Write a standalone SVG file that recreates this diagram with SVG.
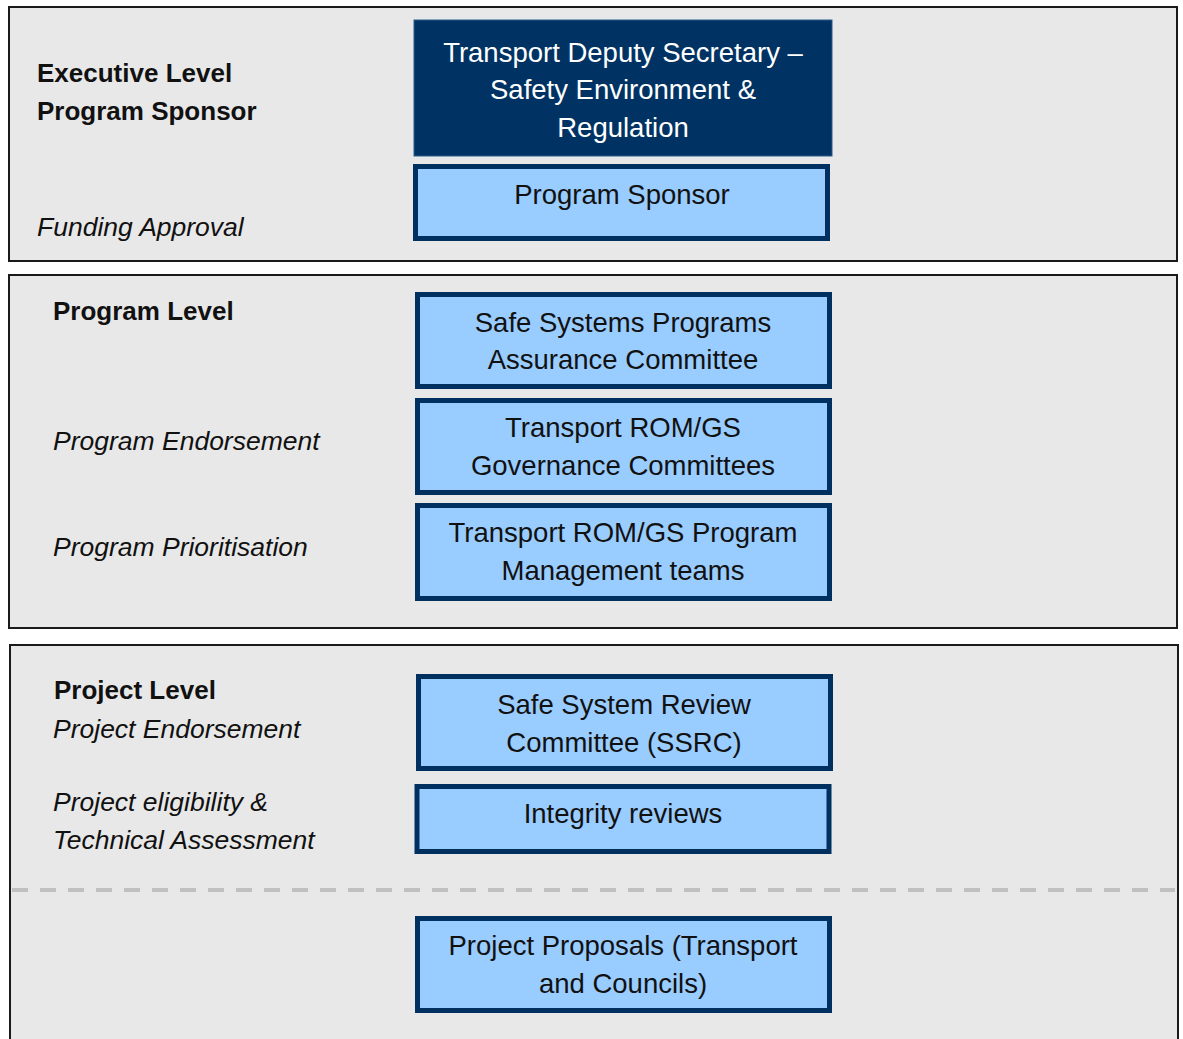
<svg xmlns="http://www.w3.org/2000/svg" width="1183" height="1039" viewBox="0 0 1183 1039">
  <style>
    .panel { fill: #e8e8e8; stroke: #1a1a1a; stroke-width: 2; }
    .head { fill: #003363; stroke: #2a5a8a; stroke-width: 1; }
    .box { fill: #99ccff; stroke: #00305f; stroke-width: 5; }
    .divider { stroke: #c0c0c0; stroke-width: 4; stroke-dasharray: 16 12; fill: none; }
    text { font-family: "Liberation Sans", Arial, sans-serif; font-size: 27.5px; fill: #111; }
    .lbl { font-weight: bold; font-size: 26px; }
    .note { font-style: italic; font-size: 26.5px; }
    .c { text-anchor: middle; }
    .w { fill: #ffffff; }
  </style>

  <!-- tiers -->
  <g id="tier-executive">
    <rect class="panel" x="9" y="7" width="1168" height="254"/>
    <text class="lbl" x="37" y="82">Executive Level</text>
    <text class="lbl" x="37" y="120">Program Sponsor</text>
    <text class="note" x="37" y="236">Funding Approval</text>
  </g>
  <g id="tier-program">
    <rect class="panel" x="9" y="275" width="1168" height="353"/>
    <text class="lbl" x="53" y="320">Program Level</text>
    <text class="note" x="53" y="450">Program Endorsement</text>
    <text class="note" x="53" y="556">Program Prioritisation</text>
  </g>
  <g id="tier-project">
    <rect class="panel" x="10" y="645" width="1168" height="400"/>
    <text class="lbl" x="54" y="699">Project Level</text>
    <text class="note" x="53" y="738">Project Endorsement</text>
    <text class="note" x="53" y="811">Project eligibility &amp;</text>
    <text class="note" x="53" y="849">Technical Assessment</text>
  </g>

  <!-- separator between reviews and proposals -->
  <g id="connectors">
    <line class="divider" x1="12" y1="890" x2="1175" y2="890"/>
  </g>

  <!-- bodies -->
  <g id="deputy-secretary">
    <rect class="head" x="414" y="20" width="418" height="136"/>
    <text class="c w" x="623" y="62">Transport Deputy Secretary –</text>
    <text class="c w" x="623" y="99">Safety Environment &amp;</text>
    <text class="c w" x="623" y="137">Regulation</text>
  </g>
  <g id="program-sponsor">
    <rect class="box" x="415.5" y="166.5" width="412" height="72"/>
    <text class="c" x="622" y="204">Program Sponsor</text>
  </g>
  <g id="assurance-committee">
    <rect class="box" x="417.5" y="294.5" width="412" height="92"/>
    <text class="c" x="623" y="332">Safe Systems Programs</text>
    <text class="c" x="623" y="369">Assurance Committee</text>
  </g>
  <g id="governance-committees">
    <rect class="box" x="417.5" y="400.5" width="412" height="92"/>
    <text class="c" x="623" y="437">Transport ROM/GS</text>
    <text class="c" x="623" y="475">Governance Committees</text>
  </g>
  <g id="management-teams">
    <rect class="box" x="417.5" y="505.5" width="412" height="93"/>
    <text class="c" x="623" y="542">Transport ROM/GS Program</text>
    <text class="c" x="623" y="580">Management teams</text>
  </g>
  <g id="ssrc">
    <rect class="box" x="418.5" y="676.5" width="412" height="92"/>
    <text class="c" x="624" y="714">Safe System Review</text>
    <text class="c" x="624" y="752">Committee (SSRC)</text>
  </g>
  <g id="integrity-reviews">
    <rect class="box" x="417" y="786.5" width="412" height="65"/>
    <text class="c" x="623" y="823">Integrity reviews</text>
  </g>
  <g id="project-proposals">
    <rect class="box" x="417.5" y="918.5" width="412" height="92"/>
    <text class="c" x="623" y="955">Project Proposals (Transport</text>
    <text class="c" x="623" y="993">and Councils)</text>
  </g>
</svg>
